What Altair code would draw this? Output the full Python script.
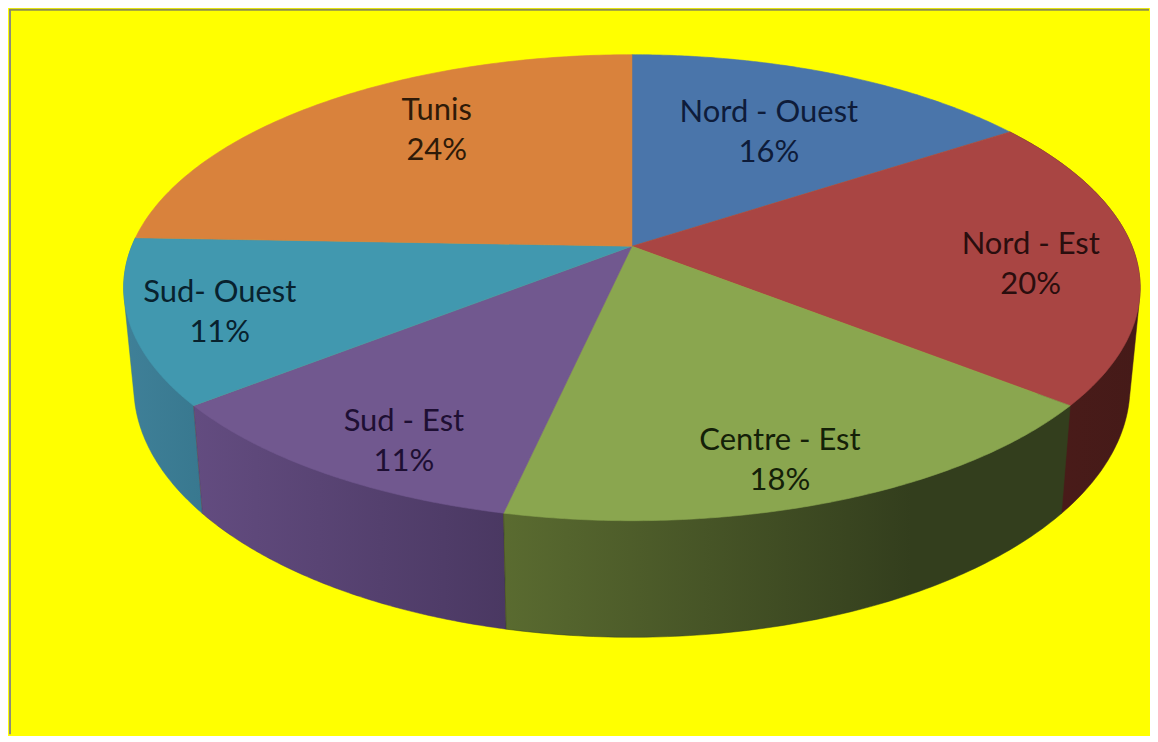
import numpy as np
import pandas as pd
import altair as alt

# Data (percent shares; the printed labels are the rounded shares)
categories = ["Nord - Ouest", "Nord - Est", "Centre - Est", "Sud - Est", "Sud- Ouest", "Tunis"]
shares = [15.6, 20.2, 17.6, 10.8, 11.4, 24.4]

# Styles
top_colors = ["#4A75AA", "#A94543", "#8AA64F", "#71588F", "#4198AF", "#D9823C"]
text_colors = ["#0E1C3A", "#2A0E0E", "#142008", "#1E0F33", "#08222E", "#2E1A08"]
wall_stops = {
    "Nord - Est": ["#4C1C1A", "#451A18"],
    "Sud- Ouest": ["#3F8098", "#38788F"],
    "Sud - Est": ["#634C80", "#4A3862"],
    "Centre - Est": ["#5A6B30", "#333E1D"],
}
wall_order = ["Nord - Est", "Sud- Ouest", "Sud - Est", "Centre - Est"]
# radial fraction, and shift along the rim in percent, of each label
label_place = {
    "Nord - Ouest": (0.626, 0.17), "Nord - Est": (0.79, 0.97), "Centre - Est": (0.852, 0.6),
    "Sud - Est": (0.849, -1.1), "Sud- Ouest": (0.832, -0.4), "Tunis": (0.706, 1.8),
}

# Perspective view of the disc
CX, CY, A, B, K = 632.0, 245.0, 501.0, 226.0, 0.178
DEPTH, SHRINK = 96.0, 0.98


def project(pct, r=1.0, lower=False):
    t = np.radians(np.asarray(pct, dtype=float) * 3.6)
    u, v = r * np.sin(t), -r * np.cos(t)
    d = 1 - K * v
    if lower:
        return CX + SHRINK * A * u / d, CY + B * v / d + DEPTH / d
    return CX + A * u / d, CY + B * v / d


def hull(xs, ys):
    """Convex outline of the rim's upper and lower arcs: a wall's silhouette."""
    pts = sorted(set(zip(map(float, xs), map(float, ys))))

    def half(seq):
        out = []
        for q in seq:
            while len(out) > 1 and ((out[-1][0] - out[-2][0]) * (q[1] - out[-2][1])
                                    - (out[-1][1] - out[-2][1]) * (q[0] - out[-2][0])) <= 0:
                out.pop()
            out.append(q)
        return out[:-1]

    ring = half(pts) + half(pts[::-1])
    ring.append(ring[0])
    return [p[0] for p in ring], [p[1] for p in ring]


edges = np.concatenate([[0], np.cumsum(shares)])
X = alt.X("x:Q", axis=None, scale=alt.Scale(domain=[8, 1150], nice=False, zero=False))
Y = alt.Y("y:Q", axis=None, scale=alt.Scale(domain=[734, 8], nice=False, zero=False))


def polygon(xs, ys, **style):
    frame = pd.DataFrame({"x": xs, "y": ys, "i": np.arange(len(xs))})
    return alt.Chart(frame).mark_line(**style).encode(x=X, y=Y, order="i:Q")


layers = []
for name in wall_order:
    k = categories.index(name)
    p = np.linspace(edges[k], edges[k + 1], 90)
    xt, yt = project(p)
    xb, yb = project(p, lower=True)
    hx, hy = hull(np.r_[xt, xb], np.r_[yt, yb])
    c0, c1 = wall_stops[name]
    grad = alt.Gradient(gradient="linear", x1=0, x2=1, y1=0, y2=0,
                        stops=[alt.GradientStop(color=c0, offset=0),
                               alt.GradientStop(color=c1, offset=0.72 if name == "Centre - Est" else 1),
                               alt.GradientStop(color=c1, offset=1)])
    layers.append(polygon(hx, hy, fill=grad, stroke=c1, strokeWidth=0.5))

for k in range(len(categories)):
    p = np.linspace(edges[k], edges[k + 1], 120)
    xt, yt = project(p)
    layers.append(polygon(np.r_[CX, xt, CX], np.r_[CY, yt, CY],
                          fill=top_colors[k], stroke=top_colors[k], strokeWidth=0.6))

mx, my, texts = [], [], []
for k, name in enumerate(categories):
    r, shift = label_place[name]
    x, y = project((edges[k] + edges[k + 1]) / 2 + shift, r=r)
    mx.append(float(x)); my.append(float(y))
    texts.append(f"{name}\n{round(shares[k])}%")

labels = pd.DataFrame({"x": mx, "y": my, "t": texts, "c": categories})
layers.append(
    alt.Chart(labels).mark_text(font="Lato", fontSize=31, lineBreak="\n", lineHeight=40, dy=-20,
                                align="center", baseline="middle").encode(
        x=X, y=Y, text="t:N",
        color=alt.Color("c:N", legend=None,
                        scale=alt.Scale(domain=categories, range=text_colors)))
)

# Grey frame on the top and left edges
layers.append(alt.Chart(pd.DataFrame({"a": [0]})).mark_rule(color="#8E8E78", strokeWidth=2).encode(
    x=alt.value(1), y=alt.value(0), y2=alt.value(726)))
layers.append(alt.Chart(pd.DataFrame({"a": [0]})).mark_rule(color="#8E8E50", strokeWidth=2).encode(
    y=alt.value(0), x=alt.value(0), x2=alt.value(1142)))

chart = alt.layer(*layers).properties(
    width=1142, height=726, background="#FFFF00", padding=0
).configure_view(stroke=None)

chart.save("out.html", embed_options={"renderer": "svg", "actions": False})
